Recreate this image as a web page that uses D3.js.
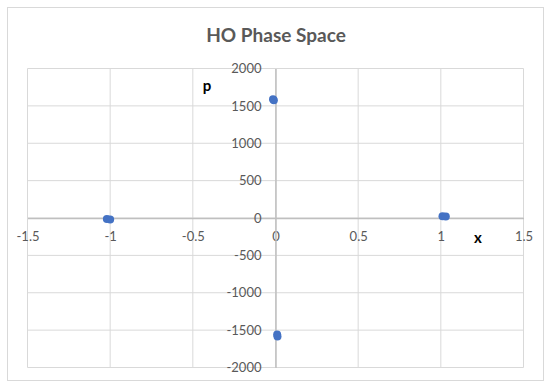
<!DOCTYPE html>
<html>
<head>
<meta charset="utf-8">
<script src="https://cdn.jsdelivr.net/npm/d3@7"></script>
<style>
  body { margin: 0; background: #fff; }
  svg { display: block; font-family: Lato, "Open Sans", sans-serif; }
</style>
</head>
<body>
<script>
const W = 550, H = 386;

// phase space samples (x, p)
const xVals = [-0.015, -0.01, 0.01, 0.012, -1.02, -1.0, 1.01, 1.03];
const pVals = [1590, 1575, -1560, -1585, -15, -20, 22, 20];
const xTicks = [-1.5, -1, -0.5, 0, 0.5, 1, 1.5];
const pTicks = [-2000, -1500, -1000, -500, 0, 500, 1000, 1500, 2000];

const pts = xVals.map((x, i) => ({ x: x, p: pVals[i] }));

const svg = d3.select('body').append('svg').attr('width', W).attr('height', H);

// chart frame
svg.append('rect').attr('x', 7.5).attr('y', 7.5).attr('width', 536).attr('height', 373)
  .attr('fill', '#fff').attr('stroke', '#d9d9d9').attr('stroke-width', 1);

const xScale = d3.scaleLinear().domain([-1.5, 1.5]).range([27.5, 523.5]);
const yScale = d3.scaleLinear().domain([-2000, 2000]).range([367.5, 68.5]);

// gridlines
svg.append('g').selectAll('line').data(xTicks).enter().append('line')
  .attr('x1', d => xScale(d)).attr('x2', d => xScale(d))
  .attr('y1', yScale(2000)).attr('y2', yScale(-2000))
  .attr('stroke', '#d9d9d9').attr('stroke-width', 1);
svg.append('g').selectAll('line').data(pTicks).enter().append('line')
  .attr('y1', d => yScale(d)).attr('y2', d => yScale(d))
  .attr('x1', xScale(-1.5)).attr('x2', xScale(1.5))
  .attr('stroke', '#d9d9d9').attr('stroke-width', 1);

// axes through origin
const xAxis = d3.axisBottom(xScale).tickValues(xTicks).tickSize(0).tickPadding(14)
  .tickFormat(d => String(d));
const yAxis = d3.axisLeft(yScale).tickValues(pTicks).tickSize(0).tickPadding(14)
  .tickFormat(d => String(d));

const gx = svg.append('g').attr('transform', 'translate(0,' + yScale(0) + ')').call(xAxis);
const gy = svg.append('g').attr('transform', 'translate(' + xScale(0) + ',0)').call(yAxis);
[gx, gy].forEach(g => {
  g.select('.domain').attr('stroke', '#bfbfbf').attr('stroke-width', 1.5);
  g.selectAll('text').attr('fill', '#595959').style('font-size', '13px')
    .style('font-family', 'Lato, "Open Sans", sans-serif');
});

// points
svg.append('g').selectAll('circle').data(pts).enter().append('circle')
  .attr('cx', d => xScale(d.x)).attr('cy', d => yScale(d.p))
  .attr('r', 4).attr('fill', '#4472c4');

// title and axis titles
svg.append('text').attr('x', 276).attr('y', 42).attr('text-anchor', 'middle')
  .attr('fill', '#595959').style('font-size', '19px').style('font-weight', 'bold')
  .text('HO Phase Space');
svg.append('text').attr('x', 207).attr('y', 91).attr('text-anchor', 'middle')
  .attr('fill', '#000').style('font-size', '15px').style('font-weight', 'bold')
  .text('p');
svg.append('text').attr('x', 478).attr('y', 243).attr('text-anchor', 'middle')
  .attr('fill', '#000').style('font-size', '15px').style('font-weight', 'bold')
  .text('x');
</script>
</body>
</html>
